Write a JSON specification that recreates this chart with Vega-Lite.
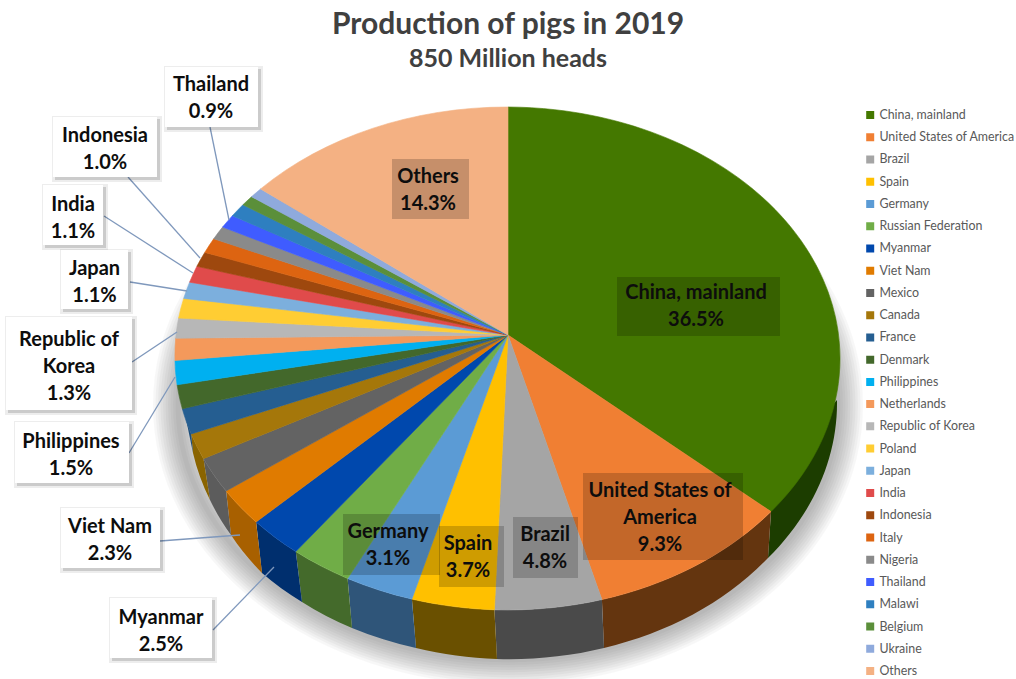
{
  "$schema": "https://vega.github.io/schema/vega-lite/v6.json",
  "width": 1016,
  "height": 670,
  "padding": {"left": 0, "right": 0, "top": 0, "bottom": 9},
  "autosize": "none",
  "background": "white",
  "title": {
    "text": "Production of pigs in 2019",
    "subtitle": "850 Million heads",
    "anchor": "middle",
    "offset": -72,
    "font": "Lato",
    "fontSize": 30,
    "fontWeight": 700,
    "color": "#404040",
    "subtitleFont": "Lato",
    "subtitleFontSize": 25,
    "subtitleFontWeight": 700,
    "subtitleColor": "#404040",
    "subtitlePadding": 7
  },
  "config": {
    "view": {"stroke": null},
    "range": {"category": ["#447800","#F07F33","#A5A5A5","#FFC000","#5B9BD5","#70AD47","#0048AD","#E07B00","#636363","#A5770A","#255E91","#43682B","#00B0F0","#F4995B","#B7B7B7","#FFCD33","#7CAFDD","#E04B4B","#9E480E","#DD6411","#8A8A8A","#3F5CFF","#2E7FC0","#5B8F3A","#8FAADC","#F4B183"]}
  },
  "datasets": {
    "slices": [
      {"country": "China, mainland", "share": 36.5},
      {"country": "United States of America", "share": 9.3},
      {"country": "Brazil", "share": 4.8},
      {"country": "Spain", "share": 3.7},
      {"country": "Germany", "share": 3.1},
      {"country": "Russian Federation", "share": 2.8},
      {"country": "Myanmar", "share": 2.5},
      {"country": "Viet Nam", "share": 2.3},
      {"country": "Mexico", "share": 2.2},
      {"country": "Canada", "share": 1.6},
      {"country": "France", "share": 1.6},
      {"country": "Denmark", "share": 1.5},
      {"country": "Philippines", "share": 1.5},
      {"country": "Netherlands", "share": 1.4},
      {"country": "Republic of Korea", "share": 1.3},
      {"country": "Poland", "share": 1.3},
      {"country": "Japan", "share": 1.1},
      {"country": "India", "share": 1.1},
      {"country": "Indonesia", "share": 1.0},
      {"country": "Italy", "share": 1.0},
      {"country": "Nigeria", "share": 0.9},
      {"country": "Thailand", "share": 0.9},
      {"country": "Malawi", "share": 0.9},
      {"country": "Belgium", "share": 0.7},
      {"country": "Ukraine", "share": 0.7},
      {"country": "Others", "share": 14.3}
    ],
    "halo": [
      {"ring": 1}, {"ring": 2}, {"ring": 3}, {"ring": 4}, {"ring": 5},
      {"ring": 6}, {"ring": 7}, {"ring": 8}, {"ring": 9}, {"ring": 10}
    ],
    "callouts": [
      {"label": "Thailand\n0.9%", "left": 165, "right": 258, "top": 67, "bottom": 127, "textX": 211, "textY": 85, "fromX": 210, "fromY": 127, "toX": 229, "toY": 220},
      {"label": "Indonesia\n1.0%", "left": 53, "right": 157, "top": 117, "bottom": 177, "textX": 105, "textY": 136, "fromX": 128, "fromY": 177, "toX": 200, "toY": 258},
      {"label": "India\n1.1%", "left": 43, "right": 103, "top": 185, "bottom": 245, "textX": 73, "textY": 205, "fromX": 104, "fromY": 216, "toX": 193, "toY": 273},
      {"label": "Japan\n1.1%", "left": 61, "right": 128, "top": 250, "bottom": 309, "textX": 94.5, "textY": 269, "fromX": 130, "fromY": 282, "toX": 187, "toY": 291},
      {"label": "Republic of\nKorea\n1.3%", "left": 6, "right": 132, "top": 317, "bottom": 410, "textX": 69, "textY": 340, "fromX": 132, "fromY": 362, "toX": 177, "toY": 332},
      {"label": "Philippines\n1.5%", "left": 15, "right": 129, "top": 422, "bottom": 483, "textX": 71, "textY": 442, "fromX": 129, "fromY": 453, "toX": 175, "toY": 377},
      {"label": "Viet Nam\n2.3%", "left": 61, "right": 160, "top": 508, "bottom": 568, "textX": 110, "textY": 527, "fromX": 160, "fromY": 541, "toX": 240, "toY": 535},
      {"label": "Myanmar\n2.5%", "left": 110, "right": 212, "top": 598, "bottom": 658, "textX": 161, "textY": 618, "fromX": 213, "fromY": 630, "toX": 274, "toY": 567}
    ],
    "insets": [
      {"label": "China, mainland\n36.5%", "left": 617, "right": 780, "top": 277, "bottom": 336, "textX": 696, "textY": 293},
      {"label": "United States of\nAmerica\n9.3%", "left": 583, "right": 743, "top": 473, "bottom": 560, "textX": 660, "textY": 491},
      {"label": "Brazil\n4.8%", "left": 513, "right": 578, "top": 517, "bottom": 578, "textX": 545, "textY": 535},
      {"label": "Spain\n3.7%", "left": 439, "right": 504, "top": 526, "bottom": 587, "textX": 468, "textY": 544},
      {"label": "Germany\n3.1%", "left": 343, "right": 440, "top": 514, "bottom": 575, "textX": 388, "textY": 532},
      {"label": "Others\n14.3%", "left": 392, "right": 469, "top": 159, "bottom": 219, "textX": 428, "textY": 177}
    ]
  },
  "layer": [
    {
      "description": "soft drop shadow under the pie, built from widening translucent outlines",
      "data": {"name": "halo"},
      "mark": {
        "type": "point",
        "filled": false,
        "size": 4,
        "stroke": "#000000",
        "strokeOpacity": 0.04,
        "shape": "M-330,70A330,255 0 1 1 330,70A330,255 0 1 1 -330,70Z"
      },
      "encoding": {
        "strokeWidth": {
          "field": "ring",
          "type": "quantitative",
          "scale": {"domain": [1, 10], "range": [5, 50]},
          "legend": null
        }
      }
    },
    {
      "description": "side wall of the front half of the disc",
      "data": {"name": "slices"},
      "transform": [
        {"filter": {"field": "country", "oneOf": ["China, mainland","United States of America","Brazil","Spain","Germany","Russian Federation","Myanmar","Viet Nam","Mexico","Canada","France"]}}
      ],
      "mark": {"type": "point", "filled": true, "size": 4, "opacity": 1},
      "encoding": {
        "color": {
          "field": "country",
          "type": "nominal",
          "sort": null,
          "legend": null,
          "scale": {
            "domain": ["China, mainland","United States of America","Brazil","Spain","Germany","Russian Federation","Myanmar","Viet Nam","Mexico","Canada","France"],
            "range": ["#1C3D00","#64350F","#4A4A4A","#6A5000","#2F5579","#446A2B","#002F6E","#A86000","#5C5C5C","#8A6400","#1F4E79"]
          }
        },
        "shape": {
          "field": "country",
          "type": "nominal",
          "sort": null,
          "legend": null,
          "scale": {
            "domain": ["China, mainland","United States of America","Brazil","Spain","Germany","Russian Federation","Myanmar","Viet Nam","Mexico","Canada","France"],
            "range": [
              "M329,65L250,150L263,176.6L260,223A320,250 0 0 0 329,65Z",
              "M263,176.6A334,251.5 0 0 1 93.9,264.6L96,313A320,250 0 0 0 260,223Z",
              "M93.9,264.6A334,251.5 0 0 1 -13.6,274.8L-11,324A320,250 0 0 0 96,313Z",
              "M-13.6,274.8A334,251.5 0 0 1 -96.1,264.1L-92,313A320,250 0 0 0 -11,324Z",
              "M-96.1,264.1A334,251.5 0 0 1 -160.4,243.5L-156,293A320,250 0 0 0 -92,313Z",
              "M-160.4,243.5A334,251.5 0 0 1 -212.2,216.6L-206,267A320,250 0 0 0 -156,293Z",
              "M-212.2,216.6A334,251.5 0 0 1 -251.9,187L-246,238A320,250 0 0 0 -206,267Z",
              "M-251.9,187A334,251.5 0 0 1 -281.9,156L-277,200A320,250 0 0 0 -246,238Z",
              "M-281.9,156A334,251.5 0 0 1 -304.5,123.7L-298,165A320,250 0 0 0 -277,200Z",
              "M-304.5,123.7A334,251.5 0 0 1 -316.8,99L-315,118A320,250 0 0 0 -298,165Z",
              "M-316.8,99A334,251.5 0 0 1 -322,84L-315,118Z"
            ]
          }
        }
      }
    },
    {
      "description": "top face of the disc, one wedge per country, clockwise from twelve o'clock",
      "data": {"name": "slices"},
      "mark": {"type": "point", "filled": true, "size": 4, "opacity": 1, "strokeWidth": 0.6},
      "encoding": {
        "color": {"field": "country", "type": "nominal", "sort": null, "legend": null},
        "stroke": {"field": "country", "type": "nominal", "sort": null, "legend": null},
        "tooltip": {"field": "share", "type": "quantitative"},
        "shape": {
          "field": "country",
          "type": "nominal",
          "sort": null,
          "legend": null,
          "scale": {
            "range": [
              "M0,0L0,-228A334,251.5 0 0 1 263,176.6Z",
              "M0,0L263,176.6A334,251.5 0 0 1 93.9,264.6Z",
              "M0,0L93.9,264.6A334,251.5 0 0 1 -13.6,274.8Z",
              "M0,0L-13.6,274.8A334,251.5 0 0 1 -96.1,264.1Z",
              "M0,0L-96.1,264.1A334,251.5 0 0 1 -160.4,243.5Z",
              "M0,0L-160.4,243.5A334,251.5 0 0 1 -212.2,216.6Z",
              "M0,0L-212.2,216.6A334,251.5 0 0 1 -251.9,187Z",
              "M0,0L-251.9,187A334,251.5 0 0 1 -281.9,156Z",
              "M0,0L-281.9,156A334,251.5 0 0 1 -304.5,123.7Z",
              "M0,0L-304.5,123.7A334,251.5 0 0 1 -316.8,99Z",
              "M0,0L-316.8,99A334,251.5 0 0 1 -325.7,73.8Z",
              "M0,0L-325.7,73.8A334,251.5 0 0 1 -330.9,49.8Z",
              "M0,0L-330.9,49.8A334,251.5 0 0 1 -333,25.5Z",
              "M0,0L-333,25.5A334,251.5 0 0 1 -332.3,3.2Z",
              "M0,0L-332.3,3.2A334,251.5 0 0 1 -329.4,-16.9Z",
              "M0,0L-329.4,-16.9A334,251.5 0 0 1 -324.3,-36.6Z",
              "M0,0L-324.3,-36.6A334,251.5 0 0 1 -318.4,-52.8Z",
              "M0,0L-318.4,-52.8A334,251.5 0 0 1 -311.1,-68.7Z",
              "M0,0L-311.1,-68.7A334,251.5 0 0 1 -303.2,-82.6Z",
              "M0,0L-303.2,-82.6A334,251.5 0 0 1 -294.3,-96.2Z",
              "M0,0L-294.3,-96.2A334,251.5 0 0 1 -285.4,-107.9Z",
              "M0,0L-285.4,-107.9A334,251.5 0 0 1 -275.6,-119.3Z",
              "M0,0L-275.6,-119.3A334,251.5 0 0 1 -265.1,-130.2Z",
              "M0,0L-265.1,-130.2A334,251.5 0 0 1 -256.5,-138.3Z",
              "M0,0L-256.5,-138.3A334,251.5 0 0 1 -247.4,-146.1Z",
              "M0,0L-247.4,-146.1A334,251.5 0 0 1 0,-228Z"
            ]
          }
        }
      }
    },
    {
      "description": "carries the country legend with plain square swatches",
      "data": {"name": "slices"},
      "mark": {"type": "square", "size": 0},
      "encoding": {
        "color": {
          "field": "country",
          "type": "nominal",
          "sort": null,
          "legend": {
            "orient": "none",
            "legendX": 864,
            "legendY": 109,
            "title": null,
            "symbolType": "square",
            "symbolSize": 64,
            "symbolStrokeWidth": 0,
            "symbolOpacity": 1,
            "labelFont": "Lato",
            "labelFontSize": 12.4,
            "labelColor": "#595959",
            "labelLimit": 200,
            "labelOffset": 3,
            "rowPadding": 9.24,
            "clipHeight": 12,
            "columns": 1
          }
        }
      }
    },
    {
      "description": "leader lines from the callouts to their wedges",
      "data": {"name": "callouts"},
      "mark": {"type": "rule", "color": "#7F98BC", "strokeWidth": 1.3},
      "encoding": {
        "x": {"field": "fromX", "type": "quantitative", "axis": null, "scale": {"domain": [0, 1016], "nice": false, "zero": false}},
        "y": {"field": "fromY", "type": "quantitative", "axis": null, "scale": {"domain": [670, 0], "nice": false, "zero": false}},
        "x2": {"field": "toX"},
        "y2": {"field": "toY"}
      }
    },
    {
      "description": "callout box shadow, outer",
      "data": {"name": "callouts"},
      "mark": {"type": "rect", "fill": "#000000", "opacity": 0.07, "xOffset": -1, "x2Offset": 5, "yOffset": -1, "y2Offset": 5},
      "encoding": {
        "x": {"field": "left", "type": "quantitative"},
        "x2": {"field": "right"},
        "y": {"field": "top", "type": "quantitative"},
        "y2": {"field": "bottom"}
      }
    },
    {
      "description": "callout box shadow, inner",
      "data": {"name": "callouts"},
      "mark": {"type": "rect", "fill": "#000000", "opacity": 0.14, "xOffset": 2, "x2Offset": 3, "yOffset": 2, "y2Offset": 3},
      "encoding": {
        "x": {"field": "left", "type": "quantitative"},
        "x2": {"field": "right"},
        "y": {"field": "top", "type": "quantitative"},
        "y2": {"field": "bottom"}
      }
    },
    {
      "description": "callout boxes",
      "data": {"name": "callouts"},
      "mark": {"type": "rect", "fill": "#FFFFFF"},
      "encoding": {
        "x": {"field": "left", "type": "quantitative"},
        "x2": {"field": "right"},
        "y": {"field": "top", "type": "quantitative"},
        "y2": {"field": "bottom"}
      }
    },
    {
      "description": "darkened panels behind labels that sit on the pie",
      "data": {"name": "insets"},
      "mark": {"type": "rect", "fill": "#000000", "opacity": 0.19},
      "encoding": {
        "x": {"field": "left", "type": "quantitative"},
        "x2": {"field": "right"},
        "y": {"field": "top", "type": "quantitative"},
        "y2": {"field": "bottom"}
      }
    },
    {
      "data": {"name": "callouts"},
      "mark": {"type": "text", "font": "Lato", "fontWeight": 700, "fontSize": 20, "color": "#0D0D0D", "lineBreak": "\n", "lineHeight": 27, "align": "center", "baseline": "middle"},
      "encoding": {
        "x": {"field": "textX", "type": "quantitative"},
        "y": {"field": "textY", "type": "quantitative"},
        "text": {"field": "label", "type": "nominal"}
      }
    },
    {
      "data": {"name": "insets"},
      "mark": {"type": "text", "font": "Lato", "fontWeight": 700, "fontSize": 20, "color": "#0D0D0D", "lineBreak": "\n", "lineHeight": 27, "align": "center", "baseline": "middle"},
      "encoding": {
        "x": {"field": "textX", "type": "quantitative"},
        "y": {"field": "textY", "type": "quantitative"},
        "text": {"field": "label", "type": "nominal"}
      }
    }
  ],
  "resolve": {"scale": {"color": "independent", "shape": "independent", "stroke": "independent"}}
}
